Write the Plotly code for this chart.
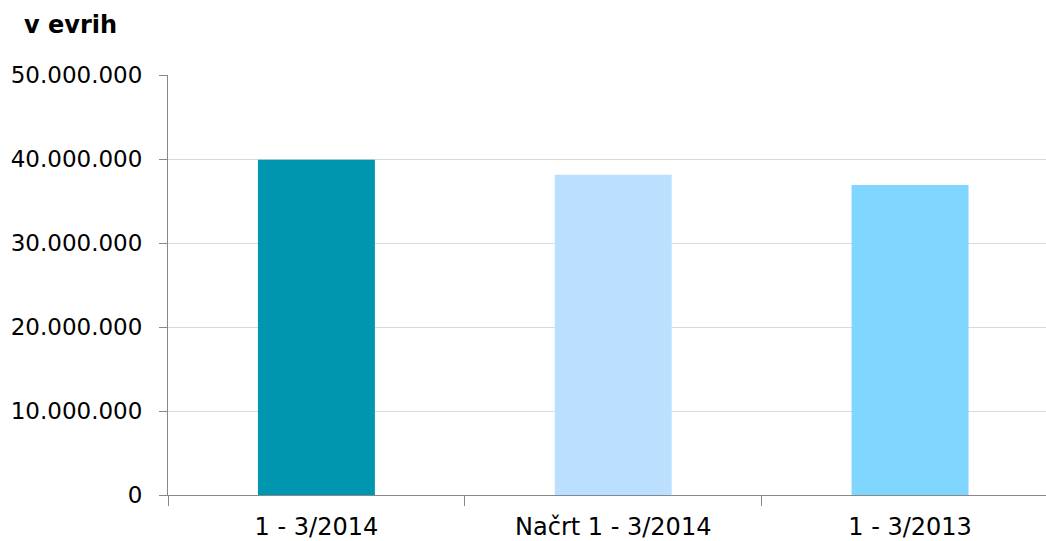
import plotly.graph_objects as go

categories = ["1 - 3/2014", "Načrt 1 - 3/2014", "1 - 3/2013"]
values = [39900000, 38130000, 36900000]
colors = ["#0096B0", "#BBE0FF", "#80D6FF"]
y_ticks = [0, 10000000, 20000000, 30000000, 40000000, 50000000]

fig = go.Figure(go.Bar(x=categories, y=values, marker=dict(color=colors, line=dict(width=0)), width=0.394))

L, T, PW, PH = 168, 75, 878, 420
fig.update_layout(
    width=1046, height=541,
    margin=dict(l=L, r=0, t=T, b=46),
    paper_bgcolor="white", plot_bgcolor="white",
    separators=",.",
    showlegend=False,
    font=dict(family="DejaVu Sans", size=23, color="#000000"),
    annotations=[dict(text="<b>v evrih</b>", xref="paper", yref="paper",
                      x=(22 - L) / PW, y=1 + (T - 25) / PH,
                      showarrow=False, xanchor="left", yanchor="middle",
                      font=dict(size=24, family="DejaVu Sans"))],
)

fig.update_xaxes(
    type="category", range=[-0.5, 2.458],
    showline=True, linecolor="#888888", linewidth=1,
    ticks="outside", ticklen=10, tickcolor="#888888", tickson="boundaries",
    showgrid=False,
    tickfont=dict(size=24),
    ticklabelstandoff=10,
)
fig.update_yaxes(
    range=[0, 50000000], tickvals=y_ticks, tickformat=",d",
    showline=True, linecolor="#888888", linewidth=1,
    ticks="outside", ticklen=8, tickcolor="#888888",
    showgrid=True, gridcolor="#D9D9D9", gridwidth=1,
    zeroline=False,
    tickfont=dict(size=23),
    ticklabelstandoff=12,
)

fig.write_html("out.html", config={"displayModeBar": False},
               post_script="document.body.style.margin='0';document.body.style.overflow='hidden';")
